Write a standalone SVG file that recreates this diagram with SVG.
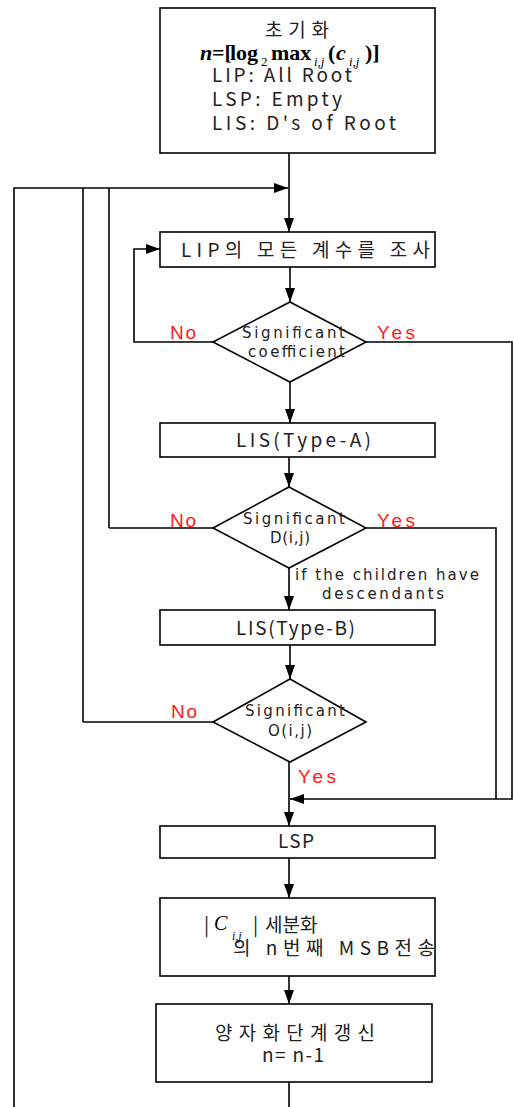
<svg xmlns="http://www.w3.org/2000/svg" width="514" height="1107" viewBox="0 0 514 1107">
<style>
.box{fill:#fff;stroke:#000;stroke-width:1.6}
.ln{fill:none;stroke:#000;stroke-width:1.6}
.t{font-family:"Noto Sans CJK KR","DejaVu Sans",sans-serif;fill:#222;font-size:19px}
.s{font-family:"DejaVu Sans","Noto Sans CJK KR",sans-serif;fill:#222;font-size:15px}
.r{font-family:"Liberation Sans",Arial,sans-serif;fill:#ff1a1a;font-size:19px}
.m{font-family:"Liberation Serif","Times New Roman",serif;fill:#000;font-size:22px}
.mb{font-weight:bold}
.mi{font-style:italic}
.sub{font-size:13px;font-weight:normal}
</style>
<defs>
<marker id="ah" viewBox="0 0 14 10" refX="14" refY="5" markerWidth="14" markerHeight="10" markerUnits="userSpaceOnUse" orient="auto">
<path d="M0,0 L14,5 L0,10 Z" fill="#000"/>
</marker>
</defs>
<rect width="514" height="1107" fill="#fff"/>
<g id="connectors">
<line class="ln" x1="289" y1="153" x2="289" y2="232" marker-end="url(#ah)"/>
<polyline class="ln" points="14,1107 14,188 288,188" marker-end="url(#ah)"/>
<polyline class="ln" points="83,722 83,188"/>
<polyline class="ln" points="109,528 109,188"/>
<line class="ln" x1="290" y1="267" x2="290" y2="302" marker-end="url(#ah)"/>
<polyline class="ln" points="213,342 134,342 134,249 160,249" marker-end="url(#ah)"/>
<polyline class="ln" points="366,342 512,342 512,799 290,799" marker-end="url(#ah)"/>
<line class="ln" x1="290" y1="382" x2="290" y2="423" marker-end="url(#ah)"/>
<line class="ln" x1="289" y1="457" x2="289" y2="487" marker-end="url(#ah)"/>
<polyline class="ln" points="213,528 109,528"/>
<polyline class="ln" points="366,528 496,528 496,799"/>
<line class="ln" x1="289" y1="568" x2="289" y2="610" marker-end="url(#ah)"/>
<line class="ln" x1="290" y1="645" x2="290" y2="679" marker-end="url(#ah)"/>
<polyline class="ln" points="213,722 83,722"/>
<line class="ln" x1="289" y1="762" x2="289" y2="826" marker-end="url(#ah)"/>
<line class="ln" x1="289" y1="858" x2="289" y2="898" marker-end="url(#ah)"/>
<line class="ln" x1="289" y1="976" x2="289" y2="1004" marker-end="url(#ah)"/>
<line class="ln" x1="289" y1="1082" x2="289" y2="1107"/>
<text class="r" x="170" y="339" textLength="26">No</text>
<text class="r" x="377" y="339" textLength="38">Yes</text>
<text class="r" x="170" y="527" textLength="26">No</text>
<text class="r" x="377" y="527" textLength="38">Yes</text>
<text class="r" x="171" y="718" textLength="26">No</text>
<text class="r" x="298" y="783" textLength="38">Yes</text>
<text class="s" x="295" y="580" textLength="184">if the children have</text>
<text class="s" x="322" y="599" textLength="122">descendants</text>
</g>
<g id="init">
<rect class="box" x="160" y="8" width="275" height="145"/>
<text class="t" x="265" y="37" textLength="64">초기화</text>
<text class="m mb"><tspan class="mi" x="200" y="60">n</tspan><tspan x="212" y="60">=[</tspan><tspan x="230" y="60">log</tspan><tspan class="sub" x="261" y="66">2</tspan><tspan x="271" y="60">max</tspan><tspan class="sub mi" x="314" y="66">i,j</tspan><tspan x="328" y="60">(</tspan><tspan class="mi" x="336" y="60">c</tspan><tspan class="sub mi" x="349" y="66">i,j</tspan><tspan x="365" y="60">)]</tspan></text>
<text class="t" x="212" y="82" textLength="140">LIP: All Root</text>
<text class="t" x="212" y="106" textLength="130">LSP: Empty</text>
<text class="t" x="212" y="130" textLength="184">LIS: D's of Root</text>
</g>
<g id="lip">
<rect class="box" x="160" y="232" width="275" height="35"/>
<text class="t" x="181" y="257" textLength="249">LIP의 모든 계수를 조사</text>
</g>
<g id="dec1">
<polygon class="box" points="290,302 366,342 290,382 213,342"/>
<text class="s" x="242" y="338" textLength="103">Significant</text>
<text class="s" x="248" y="357" textLength="97">coefficient</text>
</g>
<g id="lisA">
<rect class="box" x="160" y="423" width="275" height="34"/>
<text class="t" x="236" y="447" textLength="135">LIS(Type-A)</text>
</g>
<g id="dec2">
<polygon class="box" points="289,487 366,528 289,568 213,528"/>
<text class="s" x="243" y="524" textLength="102">Significant</text>
<text class="s" x="270" y="543" textLength="40">D(i,j)</text>
</g>
<g id="lisB">
<rect class="box" x="160" y="610" width="275" height="35"/>
<text class="t" x="236" y="635" textLength="119">LIS(Type-B)</text>
</g>
<g id="dec3">
<polygon class="box" points="290,679 366,722 290,762 213,722"/>
<text class="s" x="245" y="716" textLength="100">Significant</text>
<text class="s" x="268" y="736" textLength="44">O(i,j)</text>
</g>
<g id="lsp">
<rect class="box" x="160" y="826" width="275" height="32"/>
<text class="t" x="278" y="848" textLength="36">LSP</text>
</g>
<g id="refine">
<rect class="box" x="160" y="898" width="275" height="78"/>
<text class="t"><tspan x="204" y="932">|</tspan><tspan class="m mi" x="214" y="930" style="font-size:20px">C</tspan><tspan class="m mi" x="232" y="940" style="font-size:12px">i,j</tspan><tspan x="253" y="932">|</tspan><tspan x="265" y="932">세분화</tspan></text>
<text class="t" x="233" y="955" textLength="202">의 n번째 MSB전송</text>
</g>
<g id="update">
<rect class="box" x="156" y="1004" width="276" height="78"/>
<text class="t" x="215" y="1040" textLength="160">양자화단계갱신</text>
<text class="t" x="262" y="1062" textLength="62">n= n-1</text>
</g>
</svg>
